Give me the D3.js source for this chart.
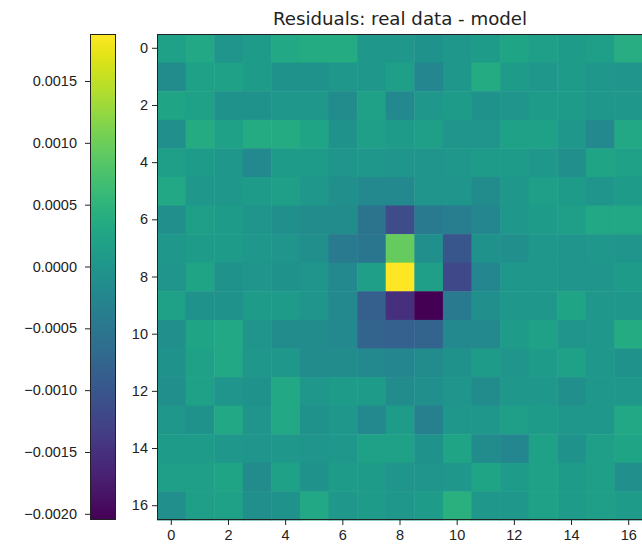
<!DOCTYPE html>
<html>
<head>
<meta charset="utf-8">
<script src="https://cdn.jsdelivr.net/npm/d3@7"></script>
<style>
  body { margin: 0; background: #fff; }
  svg { font-family: "DejaVu Sans", sans-serif; }
</style>
</head>
<body>
<div id="chart"></div>
<script>
const chartTitle = "Residuals: real data - model";

// residual values in units of 1e-4, row 0 is the top row
const residuals = [
  [2, 3, 0, 1, 3, 3.5, 3.5, 0.5, 0.5, -0.5, 0.5, 1, 2.5, 1.5, 1, 1.5, 4],
  [-1.5, 2, 2, 1, -0.5, -0.5, 0.5, 0.5, 1.5, -2.5, 0.5, 3.5, 1, 0.5, 1, 0.5, 0],
  [2.5, 2, -0.5, -0.5, 0.5, 0.5, -1.5, 2, -2, 0.5, 1, -0.5, 0, 1, 1, 0.5, 0.5],
  [-1, 3.5, 2, 3.5, 3.5, 2.5, -0.5, 1.5, 1, 1.5, 0, 0, 2, 2, 0.5, -2, 3],
  [1.5, 1, 0.5, -2, 1, 1, 0, 0.5, 0, 0, 0.5, 1, 1, 0.5, -1, 2.5, 2],
  [3, 0.5, 0.5, 1, 1.5, 0.5, -1, -2, -2, 0, 0, -1.5, 0.5, 1.5, 1, 0, 1],
  [-1, 1.5, 1, 0, -1, -1.5, -1.5, -5.5, -11.5, -4.5, -4, -2.5, 0.5, 1, 1.5, 3, 3],
  [0.5, 1, 1, 0.5, 0, -1, -4.5, -5, 9.5, -1, -10, -0.5, -1, 0.5, 0, 0.5, 0],
  [0, 2.5, -0.5, 0, -0.5, 0, -2, 1.5, 18.8, 1.5, -12, -2.5, 0.5, 0.5, 0, 0, 1],
  [2, -0.5, -0.5, 1, 1, 0, -2, -8.7, -15, -20.5, -4.5, -1, 0.5, 0.5, 2.5, 0.5, 0.5],
  [-1, 2.5, 3, 0, -1.5, -1.5, -2, -8, -8.5, -8, -2, -2, 1, 2, 0, 0.5, 3.5],
  [-0.5, 2, 3, 0.5, 0.5, -1.5, -1.5, -2, -2.5, -1.5, -0.5, 1, 0, 1, 2, 0.5, -0.5],
  [-1, 2, 0, -0.5, 3, 0.5, 1, 1, -1.5, -1, 0, -1.5, 0.5, 0.5, -1, 0.5, 0.5],
  [0.5, -0.5, 3, 0, 3, -0.5, 0.5, -2, 1, -3.5, 0.5, 0.5, 1.5, 1, 0.5, 0.5, 3],
  [1, 1, 0.5, 0, 0.5, 0, 0.5, 2, 2, -0.5, 2.5, -1.5, -2.5, 2, -0.5, 1.5, 2.5],
  [1.5, 1.5, 2.5, -1.5, 2, -0.5, 1, 1, 0, 0, 0.5, 2.5, 1, 2, 1, 1.5, -1],
  [-1, 1.5, 2, -1, -0.5, 3, 0.5, 1, 0.5, 1, 4.5, 0.5, 0.5, 2, 1, 1.5, 1]
];
const unit = 1e-4;

const rowTicks = [0, 2, 4, 6, 8, 10, 12, 14, 16];
const colTicks = [0, 2, 4, 6, 8, 10, 12, 14, 16];
const cbarTicks = [-20, -15, -10, -5, 0, 5, 10, 15];

const width = 642, height = 549;
const plotLeft = 157, plotTop = 34, plotSize = 486;
const cbarLeft = 90, cbarWidth = 25;

const svg = d3.select("#chart")
  .append("svg")
  .attr("width", width)
  .attr("height", height);

const nRows = residuals.length, nCols = residuals[0].length;

const x = d3.scaleBand().domain(d3.range(nCols)).range([plotLeft, plotLeft + plotSize]);
const y = d3.scaleBand().domain(d3.range(nRows)).range([plotTop, plotTop + plotSize]);

const extent = d3.extent(residuals.flat());
const color = d3.scaleSequential(d3.interpolateViridis).domain(extent);

// heatmap cells
const cells = [];
residuals.forEach((row, r) => row.forEach((v, c) => cells.push({ r, c, v })));

svg.append("g")
  .selectAll("rect")
  .data(cells)
  .enter().append("rect")
  .attr("x", d => x(d.c))
  .attr("y", d => y(d.r))
  .attr("width", x.bandwidth() + 0.5)
  .attr("height", y.bandwidth() + 0.5)
  .attr("fill", d => color(d.v));

svg.append("rect")
  .attr("x", plotLeft + 0.5)
  .attr("y", plotTop + 0.5)
  .attr("width", plotSize - 1)
  .attr("height", plotSize - 1)
  .attr("fill", "none")
  .attr("stroke", "#222")
  .attr("stroke-width", 1);

const styleAxis = g => {
  g.select(".domain").remove();
  g.selectAll(".tick line").attr("stroke", "#222");
  g.selectAll(".tick text").attr("fill", "#222").style("font-size", "14.5px");
};

svg.append("g")
  .attr("transform", `translate(${plotLeft},0)`)
  .call(d3.axisLeft(y).tickValues(rowTicks).tickSize(5).tickPadding(4))
  .call(styleAxis);

svg.append("g")
  .attr("transform", `translate(0,${plotTop + plotSize})`)
  .call(d3.axisBottom(x).tickValues(colTicks).tickSize(5).tickPadding(5))
  .call(styleAxis);

svg.append("text")
  .attr("x", plotLeft + plotSize / 2)
  .attr("y", 25)
  .attr("text-anchor", "middle")
  .attr("fill", "#222")
  .style("font-size", "18.2px")
  .text(chartTitle);

// colorbar
const cbarY = d3.scaleLinear().domain(extent).range([plotTop + plotSize, plotTop]);

const grad = svg.append("defs").append("linearGradient")
  .attr("id", "viridis")
  .attr("x1", 0).attr("y1", 1).attr("x2", 0).attr("y2", 0);
grad.selectAll("stop")
  .data(d3.range(0, 1.0001, 0.02))
  .enter().append("stop")
  .attr("offset", t => t)
  .attr("stop-color", t => d3.interpolateViridis(t));

svg.append("rect")
  .attr("x", cbarLeft + 0.5)
  .attr("y", plotTop + 0.5)
  .attr("width", cbarWidth)
  .attr("height", plotSize - 1)
  .attr("fill", "url(#viridis)")
  .attr("stroke", "#222")
  .attr("stroke-width", 1);

const fmt = d3.format(".4f");
svg.append("g")
  .attr("transform", `translate(${cbarLeft},0)`)
  .call(d3.axisLeft(cbarY).tickValues(cbarTicks).tickSize(5).tickPadding(8)
    .tickFormat(d => fmt(d * unit)))
  .call(styleAxis);
</script>
</body>
</html>
